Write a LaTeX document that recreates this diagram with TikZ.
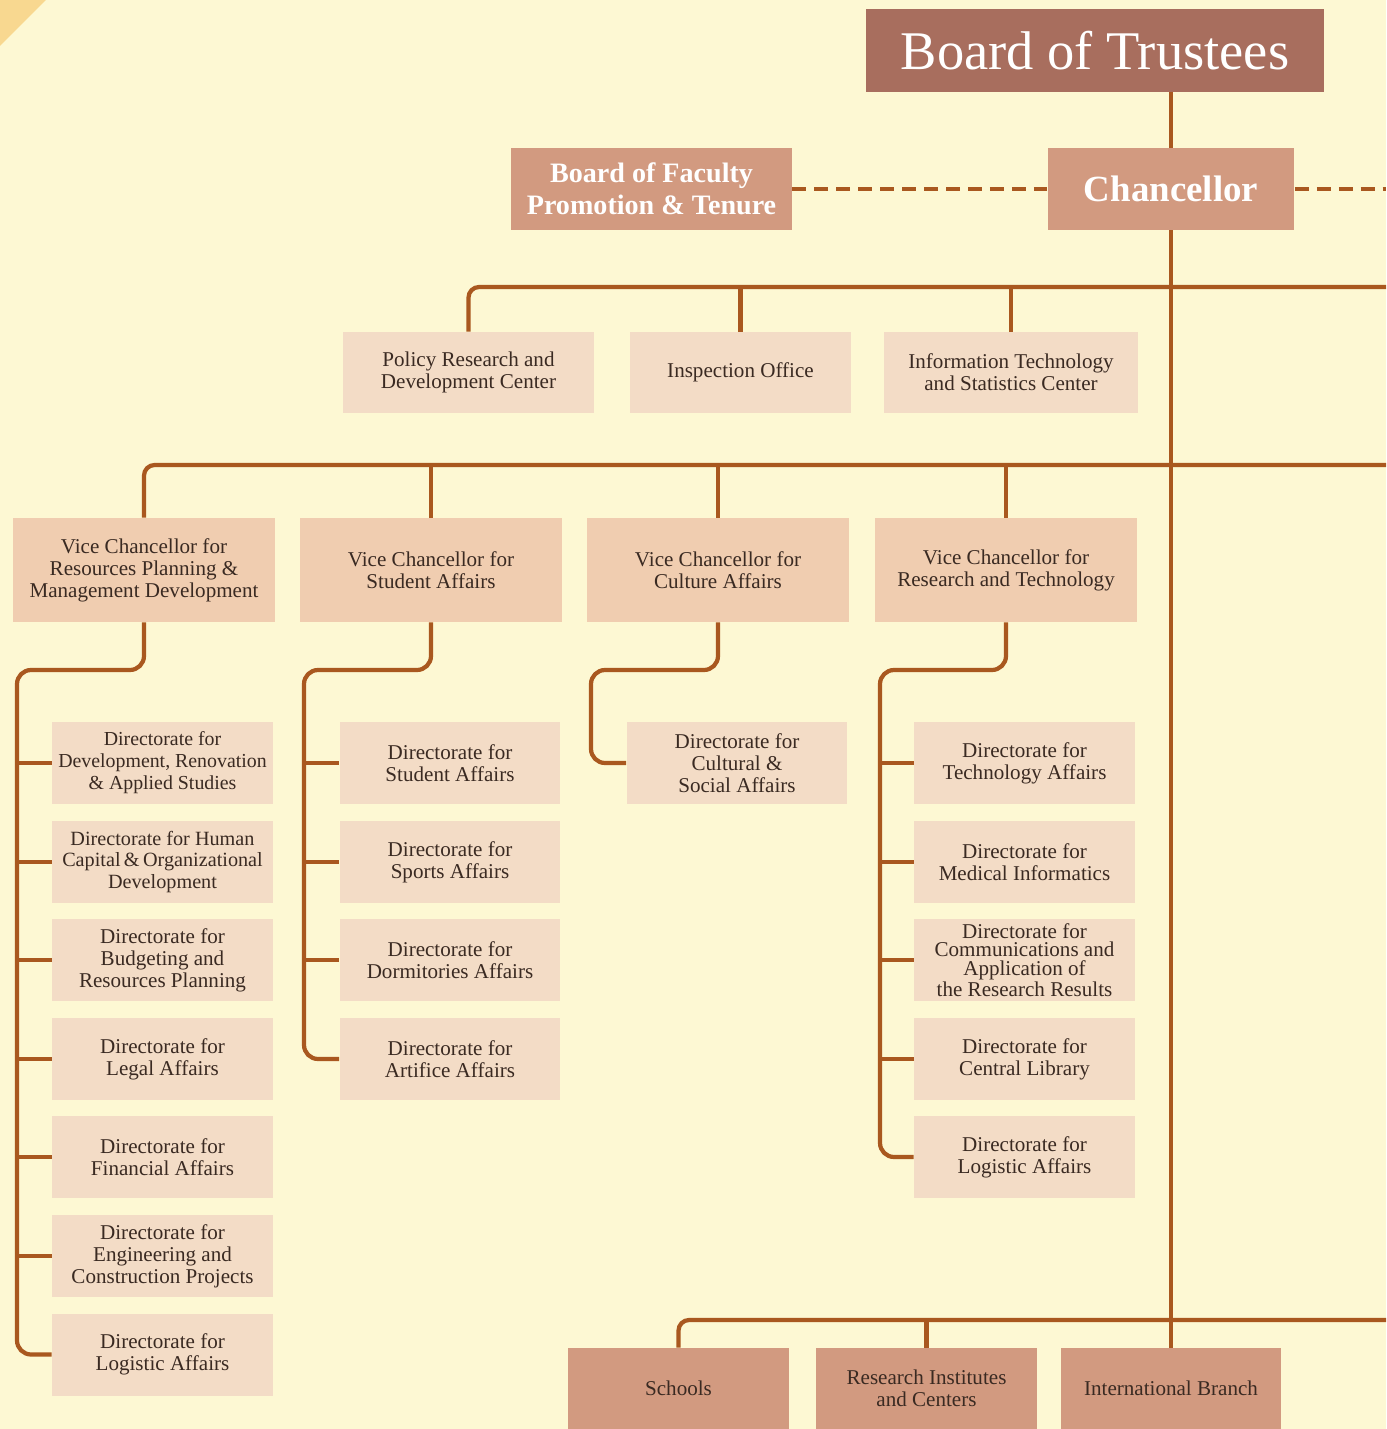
\documentclass[tikz,border=0pt]{standalone}
\usepackage{fontspec}
\setmainfont{Liberation Serif}
\definecolor{bg}{HTML}{FDF8D3}
\definecolor{cornerc}{HTML}{F8D890}
\definecolor{trustfill}{HTML}{A86E5E}
\definecolor{chanfill}{HTML}{D29A80}
\definecolor{vcfill}{HTML}{F0CDB0}
\definecolor{dirfill}{HTML}{F3DCC6}
\definecolor{linec}{HTML}{A9581F}
\definecolor{txt}{HTML}{3A2A22}
\begin{document}
\begin{tikzpicture}[x=0.02cm,y=-0.02cm,
  box/.style={rectangle, inner sep=0pt, align=center, text=txt, font=\fontsize{12}{12.5}\selectfont},
  dir/.style={box, fill=dirfill, minimum width=4.42cm, minimum height=1.64cm},
  vc/.style={box, fill=vcfill, minimum width=5.24cm, minimum height=2.08cm},
  top/.style={box, fill=dirfill, minimum height=1.62cm},
  bot/.style={box, fill=chanfill, minimum width=4.42cm, minimum height=1.62cm},
  conn/.style={draw=linec, line width=2.4pt},
  dconn/.style={draw=linec, line width=2.8pt, dash pattern=on 8pt off 4.5pt}]
\fill[bg] (0,0) rectangle (1386,1429);
\useasboundingbox (0,0) rectangle (1386,1429);
\fill[cornerc] (0,0) -- (46,0) -- (0,46) -- cycle;

% top level
\node[box, fill=trustfill, text=white, minimum width=9.16cm, minimum height=1.66cm,
      font=\fontsize{31}{31}\selectfont] (trust) at (1095,50.5) {Board of Trustees};
\node[box, fill=chanfill, text=white, minimum width=4.94cm, minimum height=1.64cm,
      font=\fontsize{21}{21}\selectfont\bfseries] (chan) at (1171,189) {Chancellor};
\node[box, fill=chanfill, text=white, minimum width=5.62cm, minimum height=1.64cm,
      font=\fontsize{16}{18}\selectfont\bfseries] (bf) at (651.5,189) {Board of Faculty\\Promotion \& Tenure};
\coordinate (dashend) at (1386,189);

% second row
\node[top, minimum width=5.02cm] (pol) at (468.5,372.5) {Policy Research and\\Development Center};
\node[top, minimum width=4.42cm] (insp) at (740.5,372.5) {Inspection Office};
\node[top, minimum width=5.08cm] (it) at (1011,372.5) {Information Technology\\and Statistics Center};
\coordinate (r1) at (1386,287);

% vice chancellors
\node[vc] (vc1) at (144,570) {Vice Chancellor for\\Resources Planning \&\\Management Development};
\node[vc] (vc2) at (431,570) {Vice Chancellor for\\Student Affairs};
\node[vc] (vc3) at (718,570) {Vice Chancellor for\\Culture Affairs};
\node[vc] (vc4) at (1006,570) {Vice Chancellor for\\Research and Technology};
\coordinate (r2) at (1386,465);

% column 1
\node[dir, font=\fontsize{11.3}{12.5}\selectfont] (d11) at (162.5,763) {Directorate for\\Development, Renovation\\\& Applied Studies};
\node[dir, font=\fontsize{11.5}{12.5}\selectfont] (d12) at (162.5,862) {Directorate for Human\\Capital\,\&\,Organizational\\Development};
\node[dir] (d13) at (162.5,960) {Directorate for\\Budgeting and\\Resources Planning};
\node[dir] (d14) at (162.5,1059) {Directorate for\\Legal Affairs};
\node[dir] (d15) at (162.5,1157) {Directorate for\\Financial Affairs};
\node[dir] (d16) at (162.5,1256) {Directorate for\\Engineering and\\Construction Projects};
\node[dir] (d17) at (162.5,1354.5) {Directorate for\\Logistic Affairs};
\coordinate (k1) at (17,670);

% column 2
\node[dir] (d21) at (450,763) {Directorate for\\Student Affairs};
\node[dir] (d22) at (450,862) {Directorate for\\Sports Affairs};
\node[dir] (d23) at (450,960) {Directorate for\\Dormitories Affairs};
\node[dir] (d24) at (450,1059) {Directorate for\\Artifice Affairs};
\coordinate (k2) at (304,670);

% column 3
\node[dir] (d31) at (737,763) {Directorate for\\Cultural \&\\Social Affairs};
\coordinate (k3) at (591,670);

% column 4
\node[dir] (d41) at (1024.5,763) {Directorate for\\Technology Affairs};
\node[dir] (d42) at (1024.5,862) {Directorate for\\Medical Informatics};
\node[dir, font=\fontsize{12}{10.6}\selectfont] (d43) at (1024.5,960) {Directorate for\\Communications and\\Application of\\the Research Results};
\node[dir] (d44) at (1024.5,1059) {Directorate for\\Central Library};
\node[dir] (d45) at (1024.5,1157) {Directorate for\\Logistic Affairs};
\coordinate (k4) at (880,670);

% bottom row
\node[bot] (sch) at (678.5,1388.5) {Schools};
\node[bot] (ri) at (926.5,1388.5) {Research Institutes\\and Centers};
\node[bot] (intl) at (1171,1388.5) {International Branch};
\coordinate (r3) at (1386,1320);

% connectors
\begin{scope}[on background layer/.style={}]
\end{scope}
\draw[conn] (trust.south -| chan.north) -- (chan.north);
\draw[conn] (chan.south) -- (intl.north);
\draw[dconn] (bf.east) -- (chan.west);
\draw[dconn] (chan.east) -- (dashend);

\draw[conn, rounded corners=6] (pol.north) |- (r1);
\draw[conn] (insp.north) -- (insp.north |- r1);
\draw[conn] (it.north) -- (it.north |- r1);

\draw[conn, rounded corners=6] (vc1.north) |- (r2);
\draw[conn] (vc2.north) -- (vc2.north |- r2);
\draw[conn] (vc3.north) -- (vc3.north |- r2);
\draw[conn] (vc4.north) -- (vc4.north |- r2);

\draw[conn, rounded corners=8] (vc1.south) |- (k1) |- (d17.west);
\foreach \d in {d11,d12,d13,d14,d15,d16} \draw[conn] (\d.west -| k1) -- (\d.west);
\draw[conn, rounded corners=8] (vc2.south) |- (k2) |- (d24.west);
\foreach \d in {d21,d22,d23} \draw[conn] (\d.west -| k2) -- (\d.west);
\draw[conn, rounded corners=8] (vc3.south) |- (k3) |- (d31.west);
\draw[conn, rounded corners=8] (vc4.south) |- (k4) |- (d45.west);
\foreach \d in {d41,d42,d43,d44} \draw[conn] (\d.west -| k4) -- (\d.west);

\draw[conn, rounded corners=6] (sch.north) |- (r3);
\draw[conn] (ri.north) -- (ri.north |- r3);
\end{tikzpicture}
\end{document}
